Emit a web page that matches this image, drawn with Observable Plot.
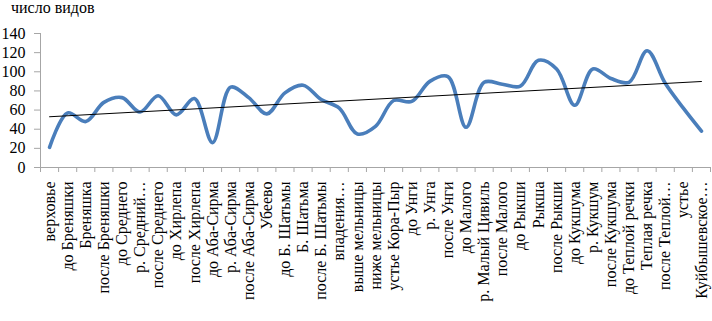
<!DOCTYPE html>
<html>
<head>
<meta charset="utf-8">
<script src="https://cdn.jsdelivr.net/npm/d3@7"></script>
<script src="https://cdn.jsdelivr.net/npm/@observablehq/plot@0.6"></script>
<style>
  html, body { margin: 0; padding: 0; background: #fff; }
  #wrap { position: relative; width: 712px; height: 321px; overflow: hidden; }
  #title { position: absolute; left: 11px; top: 0px; font-family: "Liberation Serif", "Times New Roman", serif; font-size: 16px; line-height: 16px; color: #000; white-space: nowrap; }
</style>
</head>
<body>
<div id="wrap"><div id="title">число видов</div></div>
<script>
const sites = [
  "верховье", "до Бреняшки", "Бреняшка", "после Бреняшки", "до Среднего",
  "р. Средний…", "после Среднего", "до Хирлепа", "после Хирлепа", "до Аба-Сирма",
  "р. Аба-Сирма", "после Аба-Сирма", "Убеево", "до Б. Шатьмы", "Б. Шатьма",
  "после Б. Шатьмы", "впадения…", "выше мельницы", "ниже мельницы", "устье Кора-Пыр",
  "до Унги", "р. Унга", "после Унги", "до Малого", "р. Малый Цивиль",
  "после Малого", "до Рыкши", "Рыкша", "после Рыкши", "до Кукшума",
  "р. Кукшум", "после Кукшума", "до Теплой речки", "Теплая речка", "после Теплой…",
  "устье", "Куйбышевское…"
];
const species = [
  21, 57, 48, 68, 73,
  58, 75, 55, 72, 26,
  84, 73, 56, 78, 86,
  71, 62, 35, 43, 70,
  69, 90, 95, 42, 89,
  87, 85, 112, 103, 65,
  103, 93, 89, 122, 88,
  62, 38
];
const yTicks = [0, 20, 40, 60, 80, 100, 120, 140];

const data = sites.map((s, i) => ({i, site: s, value: species[i]}));
const n = sites.length;
const serif = "Liberation Serif, Times New Roman, serif";
const axisGray = "#a6a6a6";

const chart = Plot.plot({
  width: 712,
  height: 321,
  marginLeft: 40,
  marginRight: 2,
  marginTop: 33,
  marginBottom: 154,
  style: {fontFamily: serif, fontSize: "16px", color: "#000", background: "transparent"},
  x: {type: "linear", domain: [-0.5, n - 0.5]},
  y: {domain: [0, 140]},
  marks: [
    Plot.axisY({ticks: yTicks, tickSize: 6, tickPadding: 9, stroke: axisGray, fill: "#000", label: null, fontSize: 16}),
    Plot.axisX({ticks: d3.range(-0.5, n, 1), tickSize: 5, tickFormat: () => "", stroke: axisGray, label: null}),
    Plot.axisX({ticks: d3.range(0, n, 1), tickSize: 0, tickPadding: 14, tickRotate: -90, tickFormat: d => sites[d], fill: "#000", label: null, fontSize: 16}),
    Plot.ruleX([-0.5], {stroke: axisGray}),
    Plot.ruleY([0], {stroke: axisGray}),
    Plot.line(data, {x: "i", y: "value", stroke: "#4a7ebb", strokeWidth: 3.6, curve: "catmull-rom"}),
    Plot.linearRegressionY(data, {x: "i", y: "value", stroke: "#000", strokeWidth: 1, ci: 0})
  ]
});
document.getElementById("wrap").appendChild(chart);
</script>
</body>
</html>
